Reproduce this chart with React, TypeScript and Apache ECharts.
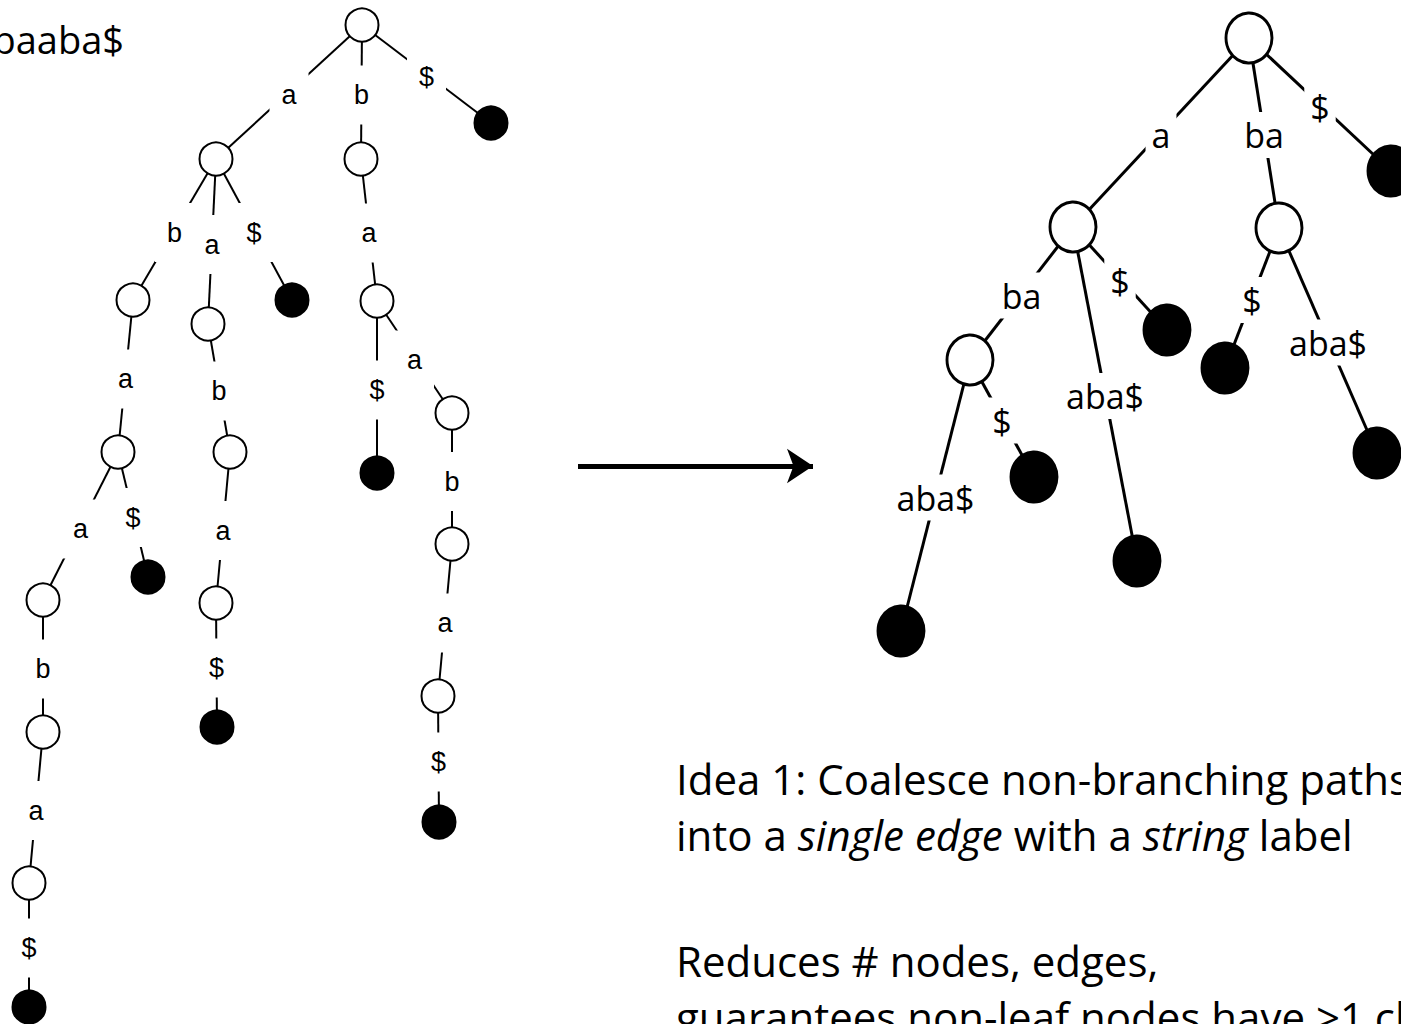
import React, { useEffect, useRef } from "react";
import * as echarts from "echarts";

// Left: suffix trie of T = abaaba$ (node position, parent index, edge label)
const TRIE_X = [362, 216, 361, 491, 133, 208, 292, 377, 118, 43, 148, 43, 29, 29, 230, 216, 217, 377, 452, 452, 438, 439];
const TRIE_Y = [25, 159, 159, 123, 300, 324, 300, 301, 452, 600, 577, 732, 883, 1007, 452, 603, 727, 473, 413, 544, 696, 822];
const TRIE_PARENT = [-1, 0, 0, 0, 1, 1, 1, 2, 4, 8, 8, 9, 11, 12, 5, 14, 15, 7, 7, 18, 19, 20];
const TRIE_LABEL = ["", "a", "b", "$", "b", "a", "$", "a", "a", "a", "$", "b", "a", "$", "b", "a", "$", "$", "a", "b", "a", "$"];

// Right: coalesced tree (suffix tree)
const ST_X = [1249, 1073, 1279, 1391, 970, 1167, 1137, 1225, 1377, 1034, 901];
const ST_Y = [38, 227, 228, 171, 360, 330, 561, 368, 453, 477, 631];
const ST_PARENT = [-1, 0, 0, 0, 1, 1, 1, 2, 2, 4, 4];
const ST_LABEL = ["", "a", "ba", "$", "ba", "$", "aba$", "$", "aba$", "$", "aba$"];

// Arrow between the two trees
const ARROW_X = [578, 813];
const ARROW_Y = [466, 466];

const TITLE_TEXT = "T = abaaba$";
const BODY_LINES = [
  "Idea 1: Coalesce non-branching paths",
  "into a {i|single edge} with a {i|string} label",
  "Reduces # nodes, edges,",
  "guarantees non-leaf nodes have >1 child",
];

function buildTree(prefix: string, xs: number[], ys: number[], parents: number[], size: any, border: number) {
  const hasChild = xs.map((_, i) => parents.includes(i));
  const nodes = xs.map((x, i) => ({
    name: prefix + i,
    value: [x, ys[i]],
    symbolSize: size,
    itemStyle: {
      color: hasChild[i] ? "#ffffff" : "#000000",
      borderColor: "#000000",
      borderWidth: border,
      opacity: 1,
    },
  }));
  const links = parents
    .map((p, i) => (p < 0 ? null : { source: prefix + p, target: prefix + i }))
    .filter(Boolean);
  return { nodes, links };
}

function buildLabels(xs: number[], ys: number[], parents: number[], labels: string[]) {
  const out: any[] = [];
  parents.forEach((p, i) => {
    if (p < 0) return;
    out.push({ name: labels[i], value: [(xs[p] + xs[i]) / 2, (ys[p] + ys[i]) / 2] });
  });
  return out;
}

export default function App() {
  const ref = useRef<HTMLDivElement>(null);
  useEffect(() => {
    document.body.style.margin = "0";
    const chart = echarts.init(ref.current!, null, { renderer: "svg" });
    const trie = buildTree("L", TRIE_X, TRIE_Y, TRIE_PARENT, 33, 2);
    const st = buildTree("R", ST_X, ST_Y, ST_PARENT, [46, 50], 3);
    const trieLabels = buildLabels(TRIE_X, TRIE_Y, TRIE_PARENT, TRIE_LABEL);
    const stLabels = buildLabels(ST_X, ST_Y, ST_PARENT, ST_LABEL);

    const bodyFont = { fontFamily: "Open Sans", fontSize: 42, fill: "#000" };
    const baselines = [793, 849, 975, 1031];

    chart.setOption({
      animation: false,
      backgroundColor: "#ffffff",
      grid: { left: 0, right: 0, top: 0, bottom: 0 },
      xAxis: { type: "value", min: 0, max: 1401, show: false },
      yAxis: { type: "value", min: 0, max: 1024, inverse: true, show: false },
      series: [
        {
          type: "graph",
          coordinateSystem: "cartesian2d",
          layout: "none",
          z: 2,
          data: trie.nodes,
          links: trie.links,
          lineStyle: { color: "#000", width: 2, opacity: 1 },
          label: { show: false },
          emphasis: { disabled: true },
        },
        {
          type: "graph",
          coordinateSystem: "cartesian2d",
          layout: "none",
          z: 2,
          data: st.nodes,
          links: st.links,
          lineStyle: { color: "#000", width: 3, opacity: 1 },
          label: { show: false },
          emphasis: { disabled: true },
        },
        {
          type: "graph",
          coordinateSystem: "cartesian2d",
          layout: "none",
          z: 2,
          data: ARROW_X.map((x, i) => ({ name: "A" + i, value: [x, ARROW_Y[i]], symbolSize: 0 })),
          links: [{ source: "A0", target: "A1" }],
          edgeSymbol: ["none", "arrow"],
          edgeSymbolSize: [0, 26],
          lineStyle: { color: "#000", width: 5, opacity: 1 },
          itemStyle: { color: "#000" },
          label: { show: false },
          emphasis: { disabled: true },
        },
        {
          type: "scatter",
          z: 5,
          symbol: "rect",
          symbolSize: 1,
          itemStyle: { color: "#ffffff", opacity: 1 },
          data: trieLabels,
          label: {
            show: true,
            position: "inside",
            formatter: "{b}",
            fontFamily: "Liberation Sans",
            fontSize: 27,
            color: "#000",
            opacity: 1,
            backgroundColor: "#ffffff",
            padding: [16, 12],
            offset: [0, 3],
          },
          emphasis: { disabled: true },
        },
        {
          type: "scatter",
          z: 5,
          symbol: "rect",
          symbolSize: 1,
          itemStyle: { color: "#ffffff", opacity: 1 },
          data: stLabels,
          label: {
            show: true,
            position: "inside",
            formatter: "{b}",
            fontFamily: "Open Sans",
            fontSize: 34,
            color: "#000",
            opacity: 1,
            backgroundColor: "#ffffff",
            padding: [6, 6],
            offset: [0, 2],
          },
          emphasis: { disabled: true },
        },
      ],
      graphic: [
        {
          type: "text",
          x: 124,
          y: 53 - 14,
          style: {
            text: TITLE_TEXT,
            fontFamily: "Open Sans",
            fontSize: 38,
            fill: "#000",
            align: "right",
            verticalAlign: "middle",
          },
        },
        ...BODY_LINES.map((t, i) => ({
          type: "text",
          x: 676,
          y: baselines[i] - 15,
          style: {
            text: t,
            ...bodyFont,
            align: "left",
            verticalAlign: "middle",
            rich: {
              i: { fontFamily: "Open Sans", fontSize: 42, fontStyle: "italic", fill: "#000" },
            },
          },
        })),
      ],
    });
    return () => chart.dispose();
  }, []);
  return (
    <div
      ref={ref}
      style={{ position: "fixed", left: 0, top: 0, width: 1401, height: 1024, overflow: "hidden", background: "#fff" }}
    />
  );
}
